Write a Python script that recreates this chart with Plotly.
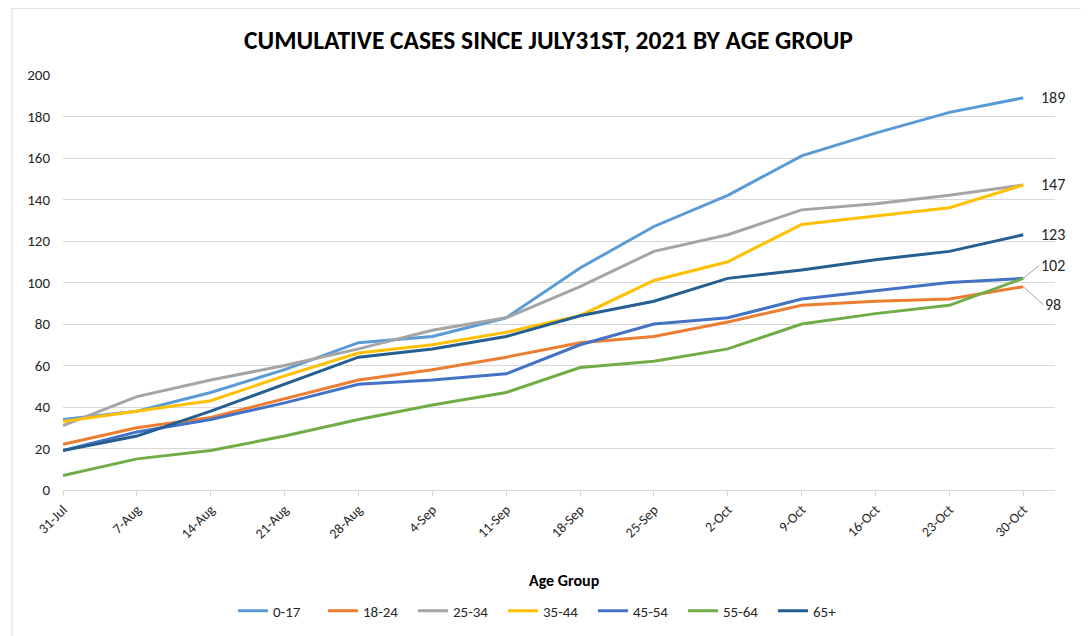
import plotly.graph_objects as go

dates = ["31-Jul", "7-Aug", "14-Aug", "21-Aug", "28-Aug", "4-Sep", "11-Sep",
         "18-Sep", "25-Sep", "2-Oct", "9-Oct", "16-Oct", "23-Oct", "30-Oct"]

age_0_17 = [34, 38, 47, 58, 71, 74, 83, 107, 127, 142, 161, 172, 182, 189]
age_18_24 = [22, 30, 35, 44, 53, 58, 64, 71, 74, 81, 89, 91, 92, 98]
age_25_34 = [31, 45, 53, 60, 68, 77, 83, 98, 115, 123, 135, 138, 142, 147]
age_35_44 = [33, 38, 43, 55, 66, 70, 76, 84, 101, 110, 128, 132, 136, 147]
age_45_54 = [19, 28, 34, 42, 51, 53, 56, 70, 80, 83, 92, 96, 100, 102]
age_55_64 = [7, 15, 19, 26, 34, 41, 47, 59, 62, 68, 80, 85, 89, 102]
age_65_plus = [19, 26, 38, 51, 64, 68, 74, 84, 91, 102, 106, 111, 115, 123]

series_names = ["0-17", "18-24", "25-34", "35-44", "45-54", "55-64", "65+"]
series_values = [age_0_17, age_18_24, age_25_34, age_35_44, age_45_54, age_55_64, age_65_plus]
series_colors = ["#5B9BD5", "#ED7D31", "#A5A5A5", "#FFC000", "#4472C4", "#70AD47", "#255E91"]

FONT = "Calibri, Carlito, 'Open Sans', 'Liberation Sans', sans-serif"
TXT = "#262626"

x_idx = list(range(len(dates)))

fig = go.Figure()
for name, vals, col in zip(series_names, series_values, series_colors):
    fig.add_trace(go.Scatter(x=x_idx, y=vals, mode="lines", name=name,
                             line=dict(color=col, width=3)))

last = len(dates) - 1
LBL = dict(size=16, color=TXT, family=FONT)
# end labels
for vals in (age_0_17, age_35_44, age_65_plus):
    fig.add_annotation(x=last, y=vals[-1], text=str(vals[-1]), showarrow=False,
                       xanchor="left", xshift=16, font=LBL)
fig.add_annotation(x=last, y=age_55_64[-1], text=str(age_55_64[-1]), showarrow=True,
                   arrowhead=0, arrowwidth=1, arrowcolor="#A6A6A6", ax=16, ay=-13,
                   xanchor="left", font=LBL)
fig.add_annotation(x=last, y=age_18_24[-1], text=str(age_18_24[-1]), showarrow=True,
                   arrowhead=0, arrowwidth=1, arrowcolor="#A6A6A6", ax=20, ay=18,
                   xanchor="left", font=LBL)

# x-axis title
fig.add_annotation(x=0.506, y=-0.219, xref="paper", yref="paper", text="<b>Age Group</b>",
                   showarrow=False, yanchor="middle",
                   font=dict(size=16, color="#000000", family=FONT))

# chart border
fig.add_shape(type="rect", xref="paper", yref="paper", x0=-0.0514, x1=1.0272, y0=-0.36, y1=1.161,
              line=dict(color="#D9D9D9", width=1), layer="below")

fig.update_layout(
    width=1081, height=628,
    margin=dict(l=55, r=34, t=67, b=146),
    paper_bgcolor="white", plot_bgcolor="white",
    title=dict(text="<b>CUMULATIVE CASES SINCE JULY31ST, 2021 BY AGE GROUP</b>",
               x=0.5, xanchor="center", y=1 - 32 / 628, yanchor="middle",
               font=dict(size=25.5, color="#000000", family=FONT)),
    font=dict(family=FONT, size=14, color=TXT),
    showlegend=True,
    legend=dict(orientation="h", xref="container", yref="container",
                x=0.4995, xanchor="center", y=1 - 603 / 628, yanchor="middle",
                entrywidth=45, entrywidthmode="pixels",
                font=dict(size=15, color=TXT, family=FONT)),
    xaxis=dict(tickmode="array", tickvals=x_idx, ticktext=dates, tickangle=-45,
               range=[0, 13.43], showgrid=False, zeroline=False,
               showline=True, linecolor="#D9D9D9", linewidth=1,
               ticks="outside", ticklen=5, tickcolor="#D9D9D9",
               tickfont=dict(size=14, color=TXT), automargin=False),
    yaxis=dict(range=[0, 200], dtick=20, showgrid=True, gridcolor="#D9D9D9", gridwidth=1,
               zeroline=False, showline=False, ticks="", ticklabelstandoff=12,
               tickfont=dict(size=15, color=TXT), automargin=False),
)

fig.write_html("out.html")
